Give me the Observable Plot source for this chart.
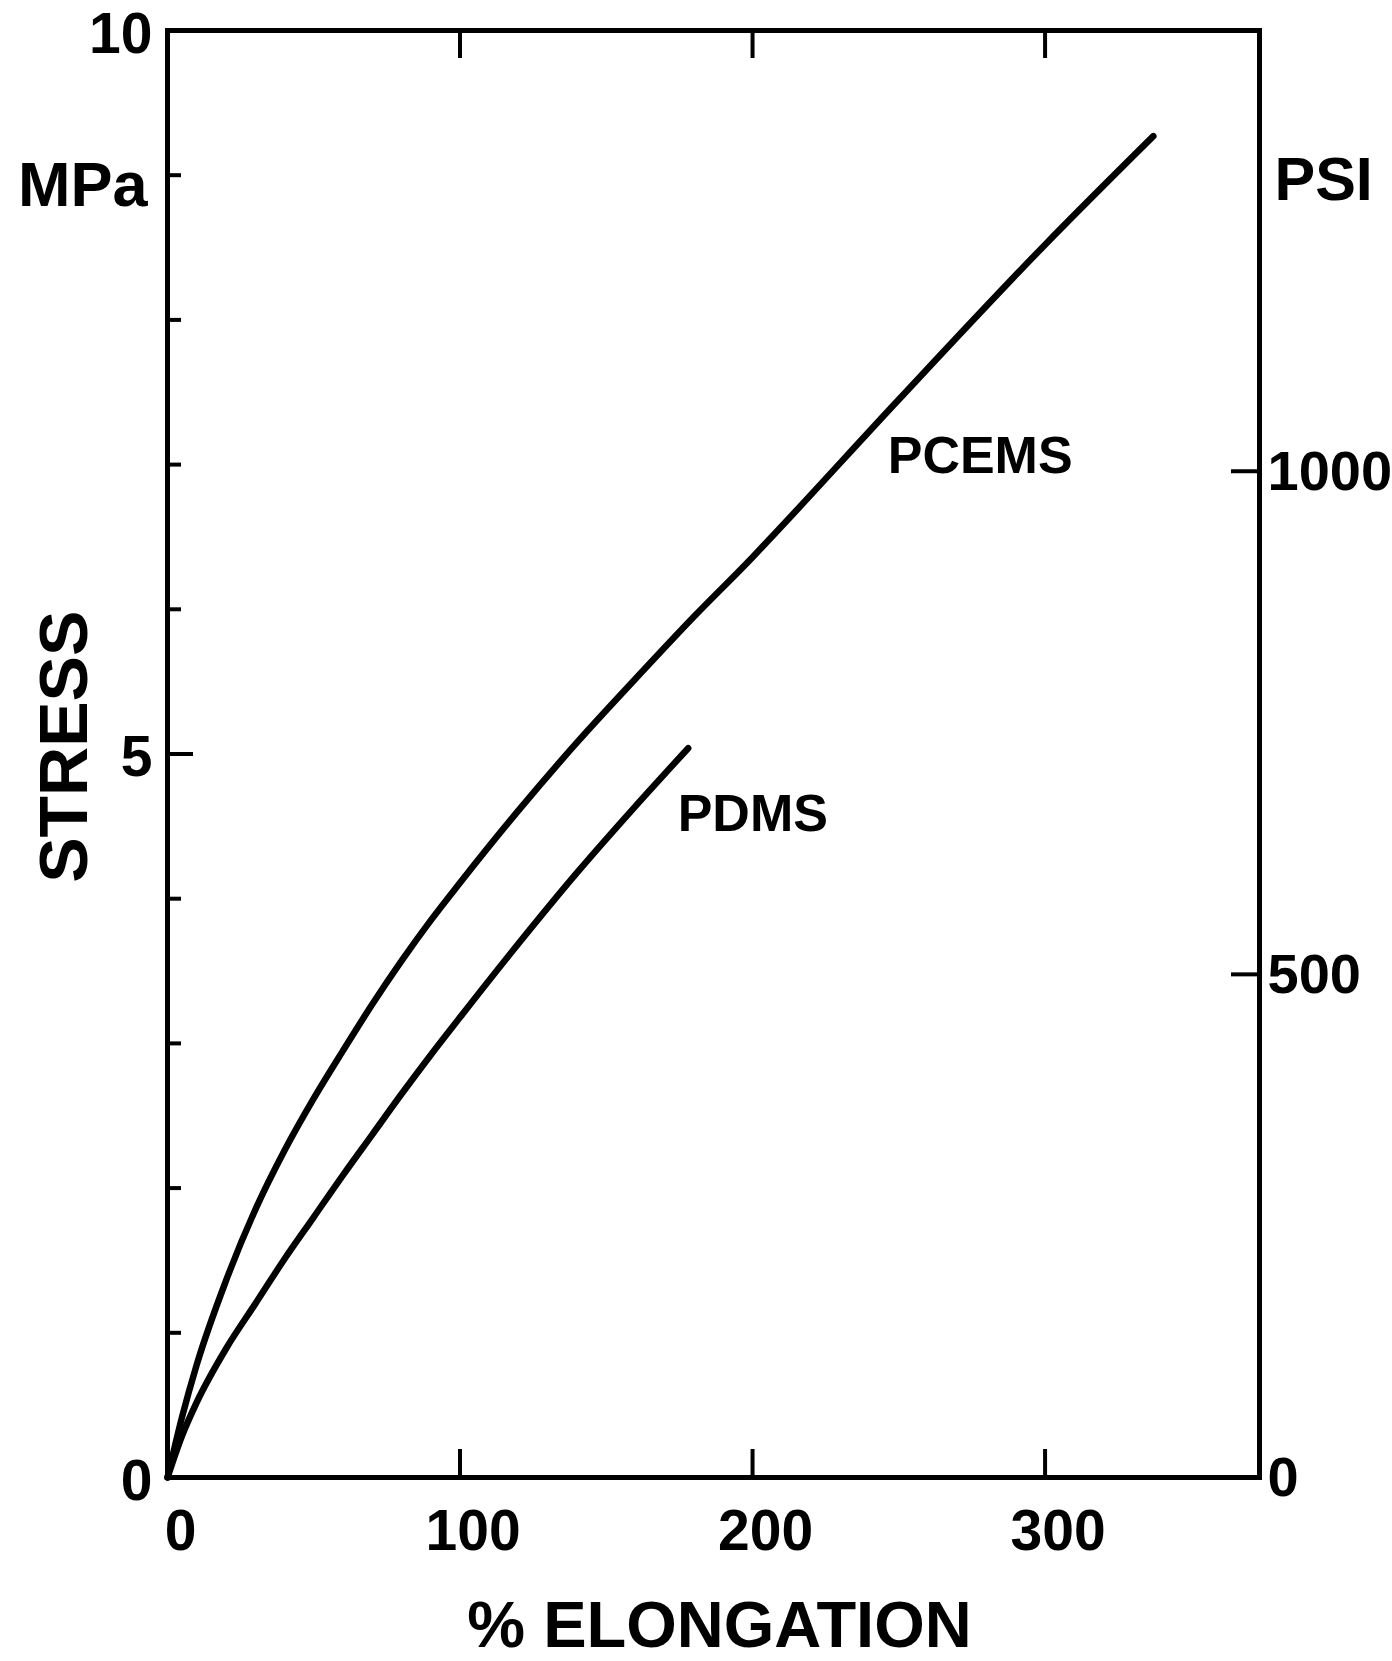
<!DOCTYPE html>
<html>
<head>
<meta charset="utf-8">
<script src="https://cdn.jsdelivr.net/npm/d3@7"></script>
<script src="https://cdn.jsdelivr.net/npm/@observablehq/plot@0.6"></script>
<style>
  html, body { margin: 0; padding: 0; background: #fff; }
  #chart svg { display: block; }
</style>
</head>
<body>
<div id="chart"></div>
<script>
// ---- data ----
// % elongation and stress (MPa)
const pcemsElong  = [0, 5, 10, 20, 30, 40, 50, 60, 70, 80, 90, 100, 120, 140, 160, 180, 200, 207, 250, 300, 337];
const pcemsStress = [0, 0.42, 0.78, 1.36, 1.85, 2.26, 2.62, 2.95, 3.27, 3.57, 3.85, 4.11, 4.61, 5.08, 5.52, 5.95, 6.36, 6.51, 7.45, 8.52, 9.27];
const pdmsElong   = [0, 5, 10, 20, 30, 40, 50, 60, 70, 80, 90, 100, 120, 140, 160, 178];
const pdmsStress  = [0, 0.29, 0.52, 0.89, 1.20, 1.51, 1.80, 2.09, 2.37, 2.65, 2.92, 3.18, 3.69, 4.18, 4.64, 5.04];

const seriesNames = ["PCEMS", "PDMS"];
const labelElong  = [246.2, 174.4];
const labelStress = [7.06, 4.58];

const xTicks = [0, 100, 200, 300];
const xTickLabels = ["0", "100", "200", "300"];
const yMinorTicks = [1, 2, 3, 4, 6, 7, 8, 9];
const yMajorTicks = [5];
const yTickLabels = [0, 5, 10];
const psiTicks = [500, 1000];
const psiTickLabels = [0, 500, 1000];
const psiPerMPa = 143.8;

const xTitle = "% ELONGATION";
const yTitle = "STRESS";
const yTitleAt = 5.05;
const leftUnit = "MPa";
const rightUnit = "PSI";

// ---- build tables ----
const pcems = pcemsElong.map((e, i) => ({elong: e, stress: pcemsStress[i], series: "PCEMS"}));
const pdms = pdmsElong.map((e, i) => ({elong: e, stress: pdmsStress[i], series: "PDMS"}));
const labels = seriesNames.map((n, i) => ({name: n, elong: labelElong[i], stress: labelStress[i]}));

const FONT = "'Liberation Sans', Arial, Helvetica, sans-serif";
const INK = "#000";

const chart = Plot.plot({
  width: 1392,
  height: 1661,
  marginLeft: 167,
  marginRight: 133,
  marginTop: 30,
  marginBottom: 184,
  style: {fontFamily: FONT, background: "#fff", color: INK},
  x: {domain: [0, 373.3], label: null},
  y: {domain: [0, 10], label: null},
  marks: [
    // stress-strain curves
    Plot.line(pcems, {x: "elong", y: "stress", stroke: INK, strokeWidth: 6.5, curve: "monotone-x", strokeLinecap: "round"}),
    Plot.line(pdms, {x: "elong", y: "stress", stroke: INK, strokeWidth: 6.5, curve: "monotone-x", strokeLinecap: "round"}),

    // inward ticks
    Plot.axisX(xTicks.slice(1), {anchor: "bottom", tickSize: -28, strokeWidth: 4, fill: "none", label: null}),
    Plot.axisX(xTicks.slice(1), {anchor: "top", tickSize: -27, strokeWidth: 4, fill: "none", label: null}),
    Plot.axisY(yMinorTicks, {anchor: "left", tickSize: -14, strokeWidth: 4, fill: "none", label: null}),
    Plot.axisY(yMajorTicks, {anchor: "left", tickSize: -26, strokeWidth: 4, fill: "none", label: null}),
    Plot.axisY(psiTicks.map(p => p / psiPerMPa), {anchor: "right", tickSize: -29, strokeWidth: 4, fill: "none", label: null}),

    // frame
    Plot.frame({stroke: INK, strokeWidth: 5}),

    // x tick labels
    Plot.text(xTicks, {x: d => d, frameAnchor: "bottom", text: (d, i) => xTickLabels[i], dy: 54, dx: 13,
      fontSize: 57, fontWeight: "bold", fill: INK, lineAnchor: "middle", textAnchor: "middle"}),
    // left y tick labels
    Plot.text(yTickLabels, {y: d => d, frameAnchor: "left", text: d => String(d), textAnchor: "end", dx: -15, dy: 4,
      fontSize: 57, fontWeight: "bold", fill: INK, lineAnchor: "middle"}),
    // right PSI tick labels
    Plot.text(psiTickLabels, {y: d => d / psiPerMPa, frameAnchor: "right", text: d => String(d), textAnchor: "start", dx: 8, dy: 1,
      fontSize: 56, fontWeight: "bold", fill: INK, lineAnchor: "middle"}),

    // series labels
    Plot.text(labels, {x: "elong", y: "stress", text: "name", textAnchor: "start", lineAnchor: "middle",
      fontSize: 52, fontWeight: "bold", fill: INK, letterSpacing: "1px"}),

    // axis titles
    Plot.text([leftUnit], {frameAnchor: "top-left", text: d => d, textAnchor: "end", dx: -20, dy: 155,
      fontSize: 63, fontWeight: "bold", fill: INK, lineAnchor: "middle"}),
    Plot.text([rightUnit], {frameAnchor: "top-right", text: d => d, textAnchor: "start", dx: 15, dy: 150,
      fontSize: 61, fontWeight: "bold", fill: INK, lineAnchor: "middle"}),
    Plot.text([yTitle], {y: () => yTitleAt, frameAnchor: "left", text: d => d, rotate: -90, dx: -102,
      textAnchor: "middle", fontSize: 68, fontWeight: "bold", fill: INK, lineAnchor: "middle"}),
    Plot.text([xTitle], {frameAnchor: "bottom", text: d => d, dx: 6, dy: 149, textAnchor: "middle",
      fontSize: 65, fontWeight: "bold", fill: INK, lineAnchor: "middle", letterSpacing: "2px"})
  ]
});

document.getElementById("chart").appendChild(chart);
</script>
</body>
</html>
